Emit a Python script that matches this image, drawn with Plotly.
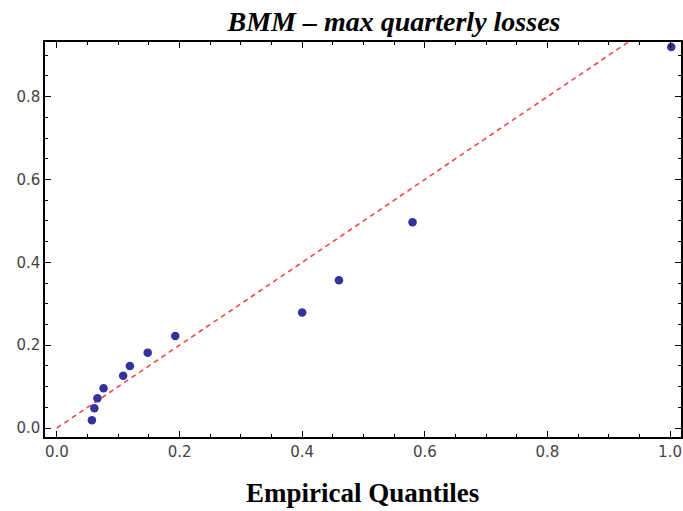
import plotly.graph_objects as go

# Data
empirical_q = [0.057, 0.061, 0.066, 0.076, 0.108, 0.119, 0.148, 0.193, 0.400, 0.460, 0.580, 1.002]
model_q = [0.019, 0.048, 0.072, 0.096, 0.126, 0.150, 0.182, 0.222, 0.279, 0.357, 0.497, 0.920]
ref_x = [0.0, 1.1]
ref_y = [0.0, 1.1]
tick_vals = [0.0, 0.2, 0.4, 0.6, 0.8, 1.0]
tick_text = ["0.0", "0.2", "0.4", "0.6", "0.8", "1.0"]

fig = go.Figure()
fig.add_trace(go.Scatter(
    x=ref_x, y=ref_y, mode="lines",
    line=dict(color="#f24848", width=1.6, dash="5px,4px"),
    hoverinfo="skip", showlegend=False,
))
fig.add_trace(go.Scatter(
    x=empirical_q, y=model_q, mode="markers",
    marker=dict(color="#33339a", size=8.5, line=dict(width=0)),
    showlegend=False,
))

axis_common = dict(
    showgrid=False, zeroline=False, showline=True, linecolor="black", linewidth=1.5,
    mirror="ticks", ticks="inside", ticklen=6, tickwidth=1.2, tickcolor="black",
    minor=dict(ticks="inside", dtick=0.05, ticklen=3.5, tickwidth=1, tickcolor="black", showgrid=False),
    tickvals=tick_vals, ticktext=tick_text,
    tickfont=dict(family="DejaVu Sans", size=15, color="#444444"),
)

fig.update_layout(
    width=683, height=511,
    margin=dict(l=45, r=0, t=42, b=74),
    paper_bgcolor="white", plot_bgcolor="white",
    title=dict(
        text="<b><i>BMM – max quarterly losses</i></b>",
        font=dict(family="Liberation Serif", size=28, color="black"),
        x=394 / 683, xref="container", xanchor="center",
        y=1 - 21 / 511, yref="container", yanchor="middle",
    ),
    xaxis=dict(range=[-0.0195, 1.0179], **axis_common),
    yaxis=dict(range=[-0.0217, 0.932], **axis_common),
    annotations=[dict(
        text="<b>Empirical Quantiles</b>",
        font=dict(family="Liberation Serif", size=27, color="black"),
        x=(363 - 45) / 638, xref="paper", xanchor="center",
        y=-(493 - 437) / 395, yref="paper", yanchor="middle",
        showarrow=False,
    )],
)

fig.write_html("out.html")
